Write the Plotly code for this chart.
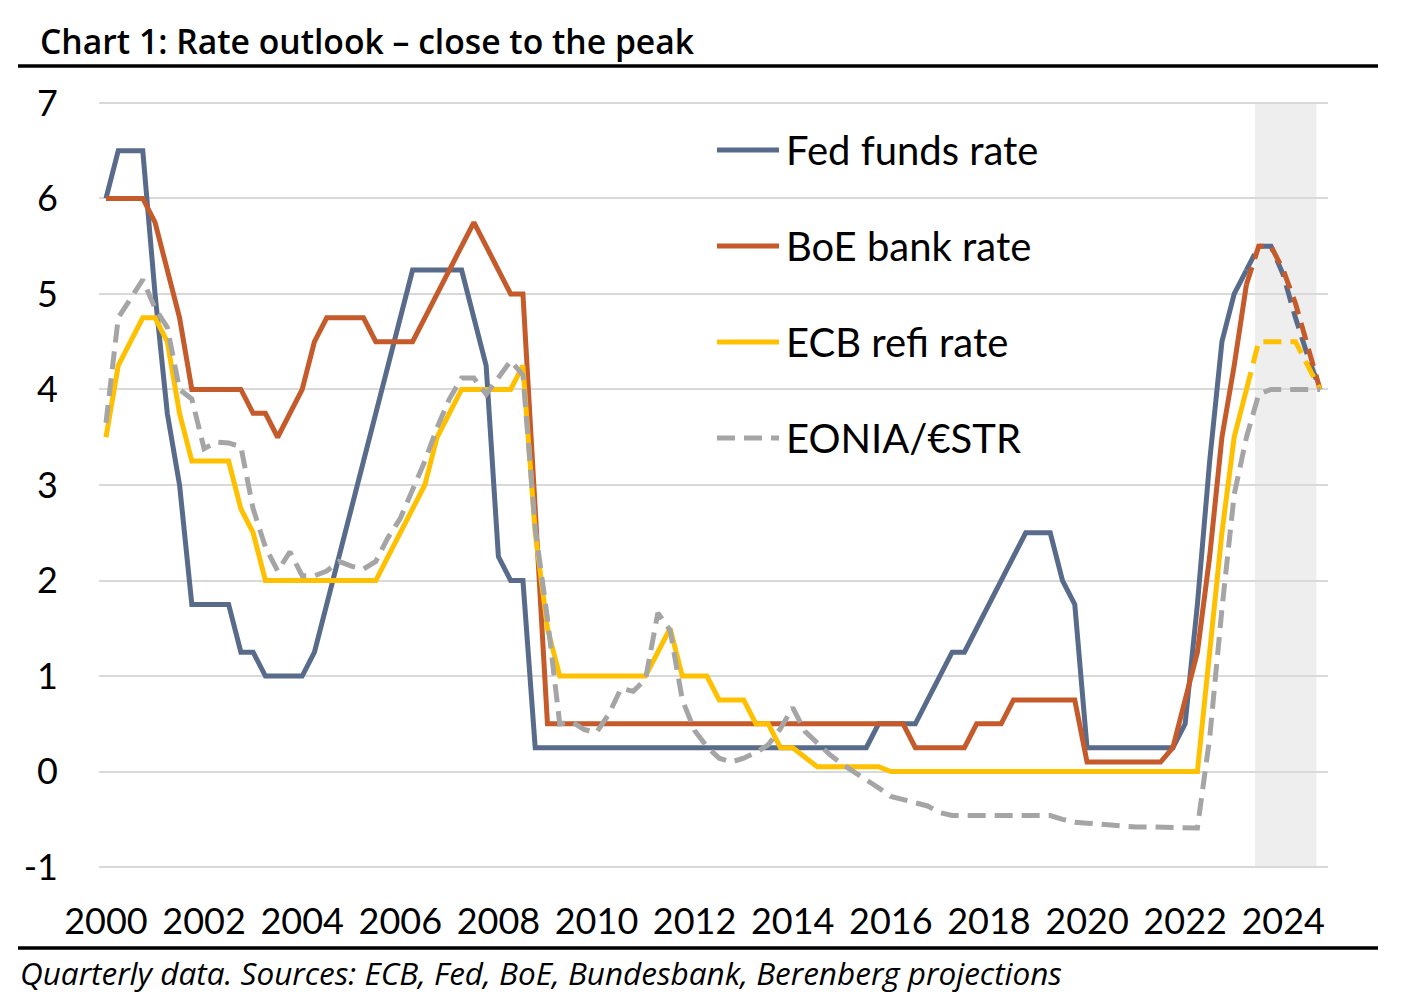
import plotly.graph_objects as go

# ---------------- data ----------------
quarters = [f"{y}Q{q}" for y in range(2000, 2025) for q in range(1, 5)]
year_ticks = [f"{y}Q1" for y in range(2000, 2025, 2)]
year_labels = [str(y) for y in range(2000, 2025, 2)]
y_ticks = [-1, 0, 1, 2, 3, 4, 5, 6, 7]
y_labels = ["-1", "0", "1", "2", "3", "4", "5", "6", "7"]

# actual data 2000Q1 .. 2023Q2
fed_actual = [
    6.0, 6.5, 6.5, 6.5,        # 2000
    5.0, 3.75, 3.0, 1.75,      # 2001
    1.75, 1.75, 1.75, 1.25,    # 2002
    1.25, 1.0, 1.0, 1.0,       # 2003
    1.0, 1.25, 1.75, 2.25,     # 2004
    2.75, 3.25, 3.75, 4.25,    # 2005
    4.75, 5.25, 5.25, 5.25,    # 2006
    5.25, 5.25, 4.75, 4.25,    # 2007
    2.25, 2.0, 2.0, 0.25,      # 2008
    0.25, 0.25, 0.25, 0.25,    # 2009
    0.25, 0.25, 0.25, 0.25,    # 2010
    0.25, 0.25, 0.25, 0.25,    # 2011
    0.25, 0.25, 0.25, 0.25,    # 2012
    0.25, 0.25, 0.25, 0.25,    # 2013
    0.25, 0.25, 0.25, 0.25,    # 2014
    0.25, 0.25, 0.25, 0.5,     # 2015
    0.5, 0.5, 0.5, 0.75,       # 2016
    1.0, 1.25, 1.25, 1.5,      # 2017
    1.75, 2.0, 2.25, 2.5,      # 2018
    2.5, 2.5, 2.0, 1.75,       # 2019
    0.25, 0.25, 0.25, 0.25,    # 2020
    0.25, 0.25, 0.25, 0.25,    # 2021
    0.5, 1.75, 3.25, 4.5,      # 2022
    5.0, 5.25,                 # 2023H1
]
boe_actual = [
    6.0, 6.0, 6.0, 6.0,
    5.75, 5.25, 4.75, 4.0,
    4.0, 4.0, 4.0, 4.0,
    3.75, 3.75, 3.5, 3.75,
    4.0, 4.5, 4.75, 4.75,
    4.75, 4.75, 4.5, 4.5,
    4.5, 4.5, 4.75, 5.0,
    5.25, 5.5, 5.75, 5.5,
    5.25, 5.0, 5.0, 2.75,
    0.5, 0.5, 0.5, 0.5,
    0.5, 0.5, 0.5, 0.5,
    0.5, 0.5, 0.5, 0.5,
    0.5, 0.5, 0.5, 0.5,
    0.5, 0.5, 0.5, 0.5,
    0.5, 0.5, 0.5, 0.5,
    0.5, 0.5, 0.5, 0.5,
    0.5, 0.5, 0.25, 0.25,
    0.25, 0.25, 0.25, 0.5,
    0.5, 0.5, 0.75, 0.75,
    0.75, 0.75, 0.75, 0.75,
    0.1, 0.1, 0.1, 0.1,
    0.1, 0.1, 0.1, 0.25,
    0.75, 1.25, 2.25, 3.5,
    4.25, 5.1,
]
ecb_actual = [
    3.5, 4.25, 4.5, 4.75,
    4.75, 4.5, 3.75, 3.25,
    3.25, 3.25, 3.25, 2.75,
    2.5, 2.0, 2.0, 2.0,
    2.0, 2.0, 2.0, 2.0,
    2.0, 2.0, 2.0, 2.25,
    2.5, 2.75, 3.0, 3.5,
    3.75, 4.0, 4.0, 4.0,
    4.0, 4.0, 4.25, 2.5,
    1.5, 1.0, 1.0, 1.0,
    1.0, 1.0, 1.0, 1.0,
    1.0, 1.25, 1.5, 1.0,
    1.0, 1.0, 0.75, 0.75,
    0.75, 0.5, 0.5, 0.25,
    0.25, 0.15, 0.05, 0.05,
    0.05, 0.05, 0.05, 0.05,
    0.0, 0.0, 0.0, 0.0,
    0.0, 0.0, 0.0, 0.0,
    0.0, 0.0, 0.0, 0.0,
    0.0, 0.0, 0.0, 0.0,
    0.0, 0.0, 0.0, 0.0,
    0.0, 0.0, 0.0, 0.0,
    0.0, 0.0, 1.25, 2.5,
    3.5, 4.0,
]
# EONIA / €STR, 2000Q1 .. 2024Q4 (incl. projections)
eonia = [
    3.65, 4.75, 4.95, 5.15,
    4.85, 4.65, 4.0, 3.9,
    3.38, 3.45, 3.44, 3.4,
    2.75, 2.35, 2.1, 2.3,
    2.05, 2.05, 2.1, 2.2,
    2.15, 2.12, 2.2, 2.45,
    2.65, 2.95, 3.25, 3.6,
    3.9, 4.12, 4.12, 3.95,
    4.13, 4.3, 4.15, 2.55,
    1.6, 0.5, 0.52, 0.44,
    0.41, 0.6, 0.87, 0.84,
    0.97, 1.66, 1.48, 0.75,
    0.43, 0.26, 0.14, 0.1,
    0.14, 0.2, 0.28, 0.45,
    0.67, 0.42, 0.3, 0.18,
    0.08, 0.0, -0.08, -0.17,
    -0.26, -0.29, -0.33, -0.36,
    -0.43, -0.46, -0.46, -0.46,
    -0.46, -0.45, -0.46, -0.46,
    -0.46, -0.46, -0.5, -0.53,
    -0.54, -0.55, -0.56, -0.58,
    -0.58, -0.58, -0.58, -0.58,
    -0.58, -0.59, 0.35, 1.7,
    2.9, 3.5, 3.95, 4.0,
    4.0, 4.0, 4.0, 4.0,
]
# Berenberg projections 2023Q2 .. 2024Q4
proj_quarters = quarters[93:]
fed_proj = [5.25, 5.5, 5.5, 5.2, 4.75, 4.35, 4.0]
boe_proj = [5.1, 5.5, 5.5, 5.25, 4.9, 4.45, 4.0]
ecb_proj = [4.0, 4.5, 4.5, 4.5, 4.5, 4.25, 4.0]

series_names = ["Fed funds rate", "BoE bank rate", "ECB refi rate", "EONIA/€STR"]
colors = ["#586B8A", "#C55A2B", "#FFC000", "#A5A5A5"]
shade_start, shade_end = 93.7, 98.7   # projection period (category positions)

# ---------------- layout geometry ----------------
OFF = 8                      # page body margin
W, H = 1400, 992             # figure size (page is 1408x1000)
Y_RANGE = [-1.02, 7.02]
# target screen positions: x from 99 to 1328; y=7 at 103, y=-1 at 867
per_unit = (867 - 103) / 8.0
plot_top = 103 - (Y_RANGE[1] - 7) * per_unit
plot_bot = 867 + (-1 - Y_RANGE[0]) * per_unit
L = 99 - OFF
R = W - (1328 - OFF)
T = plot_top - OFF
B = H - (plot_bot - OFF)
PW, PH = W - L - R, H - T - B


def px(x):
    return (x - OFF - L) / PW


def py(y):
    return (plot_bot - y) / PH


DASH = "18px,9px"
LW = 5
fig = go.Figure()

actuals = [fed_actual, boe_actual, ecb_actual]
projs = [fed_proj, boe_proj, ecb_proj]
for i in range(3):
    fig.add_trace(go.Scatter(x=quarters[:len(actuals[i])], y=actuals[i], mode="lines",
                             name=series_names[i], showlegend=False,
                             line=dict(color=colors[i], width=LW)))
for i in range(3):
    fig.add_trace(go.Scatter(x=proj_quarters, y=projs[i], mode="lines",
                             name=series_names[i] + " (projection)", showlegend=False,
                             line=dict(color=colors[i], width=LW, dash=DASH)))
fig.add_trace(go.Scatter(x=quarters, y=eonia, mode="lines", name=series_names[3],
                         showlegend=False, line=dict(color=colors[3], width=LW, dash=DASH)))

TXT = "Lato, 'Open Sans', sans-serif"
shapes = [
    dict(type="rect", xref="x", yref="y", x0=shade_start, x1=shade_end, y0=-1, y1=7,
         fillcolor="#EEEEEE", line=dict(width=0), layer="below"),
    dict(type="line", xref="paper", yref="paper", x0=px(18), x1=px(1378), y0=py(66), y1=py(66),
         line=dict(color="black", width=3.5)),
    dict(type="line", xref="paper", yref="paper", x0=px(18), x1=px(1378), y0=py(948), y1=py(948),
         line=dict(color="black", width=3.5)),
]
annotations = [
    dict(text="Chart 1: Rate outlook – close to the peak", xref="paper", yref="paper",
         x=px(38), y=py(41), xanchor="left", yanchor="middle", showarrow=False,
         font=dict(family="'Open Sans', sans-serif", size=33.7, color="black", weight=600)),
    dict(text="<i>Quarterly data. Sources: ECB, Fed, BoE, Bundesbank, Berenberg projections</i>",
         xref="paper", yref="paper", x=px(18), y=py(972), xanchor="left", yanchor="middle",
         showarrow=False, font=dict(family="'Open Sans', sans-serif", size=31.5, color="black")),
]
# legend (manual, to reproduce long line samples)
leg_y = [150, 246, 342, 438]
for i, name in enumerate(series_names):
    shapes.append(dict(type="line", xref="paper", yref="paper", x0=px(717), x1=px(779),
                       y0=py(leg_y[i]), y1=py(leg_y[i]),
                       line=dict(color=colors[i], width=LW, dash=DASH if i == 3 else "solid")))
    annotations.append(dict(text=name, xref="paper", yref="paper", x=px(784), y=py(leg_y[i]),
                            xanchor="left", yanchor="middle", showarrow=False,
                            font=dict(family=TXT, size=40, color="black")))

fig.update_layout(
    width=W, height=H, margin=dict(l=L, r=R, t=T, b=B, pad=0),
    paper_bgcolor="white", plot_bgcolor="white",
    shapes=shapes, annotations=annotations, showlegend=False,
    xaxis=dict(type="category", range=[-0.57, 99.65], tickmode="array",
               tickvals=year_ticks, ticktext=year_labels, showgrid=False,
               showline=False, zeroline=False, ticks="",
               tickfont=dict(family=TXT, size=36, color="black"), ticklabelstandoff=28),
    yaxis=dict(range=Y_RANGE, tickmode="array", tickvals=y_ticks, ticktext=y_labels,
               showgrid=True, gridcolor="#D9D9D9",
               gridwidth=1.5, zeroline=False, showline=False, ticks="",
               tickfont=dict(family=TXT, size=36, color="black"), ticklabelstandoff=40),
)

fig.write_html("out.html")
